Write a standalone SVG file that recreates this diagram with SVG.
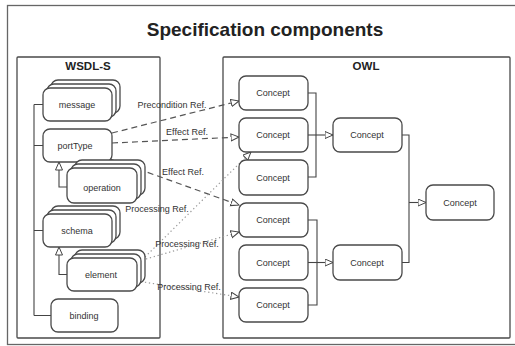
<svg xmlns="http://www.w3.org/2000/svg" width="515" height="346" viewBox="0 0 515 346">
<defs>
<style>
.box{fill:#fff;stroke:#4a4a4a;stroke-width:1.3}
.frame{fill:none;stroke:#666;stroke-width:1.3}
.t{font-family:"Liberation Sans",Arial,sans-serif;font-size:9px;fill:#333;text-anchor:middle}
.h{font-family:"Liberation Sans",Arial,sans-serif;font-size:11.5px;font-weight:bold;fill:#222;text-anchor:middle}
.ln{fill:none;stroke:#444;stroke-width:1.1}
.dash{fill:none;stroke:#555;stroke-width:1.2;stroke-dasharray:6,4}
.dot{fill:none;stroke:#9a9a9a;stroke-width:1.2;stroke-dasharray:1.3,2.7}
.lbl{font-family:"Liberation Sans",Arial,sans-serif;font-size:9px;fill:#333;text-anchor:middle}
</style>
<marker id="tri" markerUnits="userSpaceOnUse" markerWidth="10" markerHeight="9" refX="8.5" refY="4" orient="auto">
<path d="M0.5,0.5 L8.5,4 L0.5,7.5 Z" fill="#fff" stroke="#444" stroke-width="1"/>
</marker>
</defs>
<rect width="515" height="346" fill="#fff"/>
<rect class="frame" x="7.5" y="5.5" width="520" height="339"/>
<text x="265" y="36" font-family="'Liberation Sans',Arial,sans-serif" font-size="19" font-weight="bold" fill="#222" text-anchor="middle">Specification components</text>

<g id="wsdl">
<rect class="box" x="17" y="57" width="143" height="281" rx="1"/>
<text class="h" x="88" y="70">WSDL-S</text>
</g>
<g id="owl">
<rect class="box" x="223" y="57" width="287" height="281" rx="1"/>
<text class="h" x="366" y="70">OWL</text>
</g>

<g id="connectors">
<path class="ln" d="M34,104.5 V315.5 M34,104.5 H43 M34,145.5 H43 M34,230.5 H43 M34,315.5 H51"/>
<path class="ln" d="M67,187 H59 V162" marker-end="url(#tri)"/>
<path class="ln" d="M67,274.5 H59 V247" marker-end="url(#tri)"/>
<path class="ln" d="M308,93 H316 V177 H308"/>
<path class="ln" d="M308,135 H333" marker-end="url(#tri)"/>
<path class="ln" d="M308,220 H317 V305 H308"/>
<path class="ln" d="M308,262.5 H333" marker-end="url(#tri)"/>
<path class="ln" d="M402,135 H409 V262.5 H402"/>
<path class="ln" d="M409,202.5 H426" marker-end="url(#tri)"/>
<path class="dash" d="M112,133 L239,101" marker-end="url(#tri)"/>
<path class="dash" d="M112,143 L239,137" marker-end="url(#tri)"/>
<path class="dash" d="M110,159 L239,205" marker-end="url(#tri)"/>
<path class="dot" d="M145,257 L251,152" marker-end="url(#tri)"/>
<path class="dot" d="M146,259 L239,232" marker-end="url(#tri)"/>
<path class="dot" d="M137,281 L239,297" marker-end="url(#tri)"/>
<text class="lbl" x="172" y="108">Precondition Ref.</text>
<text class="lbl" x="187" y="135">Effect Ref.</text>
<text class="lbl" x="183" y="175">Effect Ref.</text>
<text class="lbl" x="157" y="212">Processing Ref.</text>
<text class="lbl" x="187" y="247">Processing Ref.</text>
<text class="lbl" x="189" y="290">Processing Ref.</text>
</g>

<g id="message">
<rect class="box" x="51" y="80" width="69" height="33" rx="7"/>
<rect class="box" x="47" y="84" width="69" height="33" rx="7"/>
<rect class="box" x="43" y="88" width="69" height="33" rx="7"/>
<text class="t" x="77" y="108">message</text>
</g>
<g id="portType">
<rect class="box" x="43" y="129" width="69" height="33" rx="7"/>
<text class="t" x="75" y="149">portType</text>
</g>
<g id="operation">
<rect class="box" x="75" y="160" width="70" height="35" rx="7"/>
<rect class="box" x="71" y="164" width="70" height="35" rx="7"/>
<rect class="box" x="67" y="168" width="70" height="35" rx="7"/>
<text class="t" x="102" y="191">operation</text>
</g>
<g id="schema">
<rect class="box" x="51" y="206" width="69" height="33" rx="7"/>
<rect class="box" x="47" y="210" width="69" height="33" rx="7"/>
<rect class="box" x="43" y="214" width="69" height="33" rx="7"/>
<text class="t" x="77" y="234">schema</text>
</g>
<g id="element">
<rect class="box" x="75" y="250" width="70" height="33" rx="7"/>
<rect class="box" x="71" y="254" width="70" height="33" rx="7"/>
<rect class="box" x="67" y="258" width="70" height="33" rx="7"/>
<text class="t" x="101" y="278">element</text>
</g>
<g id="binding">
<rect class="box" x="51" y="299" width="67" height="33" rx="7"/>
<text class="t" x="84" y="319">binding</text>
</g>

<g id="concept1"><rect class="box" x="239" y="76" width="69" height="34" rx="7"/><text class="t" x="273" y="96">Concept</text></g>
<g id="concept2"><rect class="box" x="239" y="118" width="69" height="34" rx="7"/><text class="t" x="273" y="138">Concept</text></g>
<g id="concept3"><rect class="box" x="239" y="160" width="69" height="35" rx="7"/><text class="t" x="273" y="180.5">Concept</text></g>
<g id="concept4"><rect class="box" x="333" y="118" width="69" height="34" rx="7"/><text class="t" x="367" y="138">Concept</text></g>
<g id="concept5"><rect class="box" x="239" y="203" width="69" height="34" rx="7"/><text class="t" x="273" y="223">Concept</text></g>
<g id="concept6"><rect class="box" x="239" y="245" width="69" height="35" rx="7"/><text class="t" x="273" y="265.5">Concept</text></g>
<g id="concept7"><rect class="box" x="239" y="288" width="69" height="34" rx="7"/><text class="t" x="273" y="308">Concept</text></g>
<g id="concept8"><rect class="box" x="333" y="245" width="69" height="35" rx="7"/><text class="t" x="367" y="265.5">Concept</text></g>
<g id="concept9"><rect class="box" x="426" y="185" width="68" height="35" rx="7"/><text class="t" x="460" y="205.5">Concept</text></g>
</svg>
